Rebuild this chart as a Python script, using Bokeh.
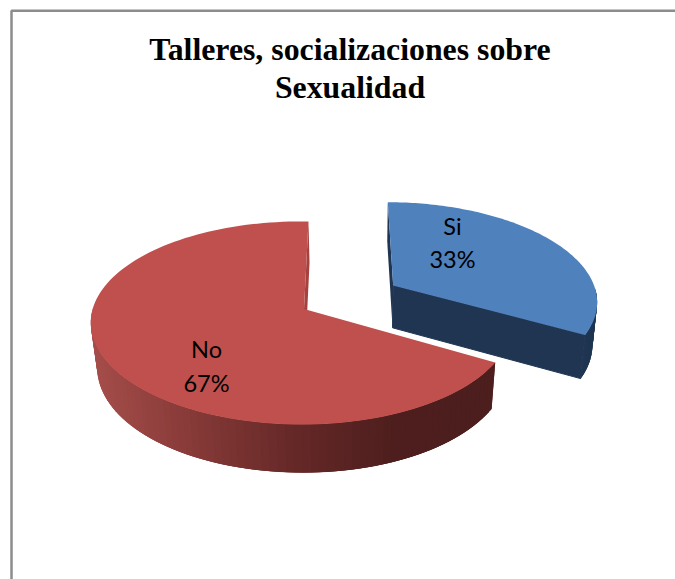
import numpy as np
from bokeh.plotting import figure
from bokeh.models import Range1d
from bokeh.core.properties import value
from bokeh.embed import file_html
from bokeh.resources import INLINE

categories = ["Si", "No"]
shares = [33, 67]
title_lines = ["Talleres, socializaciones sobre", "Sexualidad"]

# projection of each tilted, exploded slice: apex, radii, perspective, rim depth
GEOM = {
    "Si": dict(ax=392.7, ay=285.0, R=201.0, S=94.9, b=6.15, e=0.4, k=0.139, m=0.0,
               vx=360.0, t=0.02, d0=42.3, d1=3.0,
               top="#4f81bd", cut="#1f3552"),
    "No": dict(ax=303.5, ay=308.4, R=208.3, S=99.5, b=-5.1, e=2.9, k=0.139, m=-0.01,
               vx=350.0, t=0.025, d0=44.7, d1=3.5,
               top="#c0504d", cut="#a5413f"),
}
LABEL_POS = {"Si": (452, 225.5, 258.5), "No": (206, 348.5, 382.5)}
SHADE_X = [91, 200, 300, 400, 494]
SHADE_C = [(0xa6, 0x4e, 0x4b), (0x86, 0x3a, 0x38), (0x66, 0x29, 0x28), (0x4e, 0x1f, 0x1e), (0x4c, 0x1e, 0x1d)]


def project(g, theta):
    u, v = np.sin(theta), -np.cos(theta)
    w = 1 - g["k"] * v - g["m"] * u
    return g["ax"] + (g["R"] * u + g["b"] * v) / w, g["ay"] + (g["S"] * v + g["e"] * u) / w


def lower(g, x, y, v):
    return x + (g["vx"] - x) * g["t"], y + g["d0"] + g["d1"] * v


def red_shade(x):
    return "#%02x%02x%02x" % tuple(int(np.interp(x, SHADE_X, [c[i] for c in SHADE_C])) for i in range(3))


p = figure(width=675, height=579, x_range=Range1d(0, 675), y_range=Range1d(579, 0),
           x_axis_type=None, y_axis_type=None, toolbar_location=None,
           output_backend="svg", min_border=0, outline_line_color=None,
           background_fill_color="white", border_fill_color="white")
p.grid.visible = False

# chart frame
p.line([11, 11, 675], [579, 10.2, 10.2], line_color="#8c8c8c", line_width=2.5)

total = sum(shares)
start = 0.0
for cat, share in zip(categories, shares):
    g = GEOM[cat]
    a0, a1 = start, start + 2 * np.pi * share / total
    start = a1
    th = np.linspace(a0, a1, 121)
    X, Y = project(g, th)
    V = -np.cos(th)
    LX, LY = lower(g, X, Y, V)

    # visible rim only, shaded strip by strip; each strip overlaps the next to avoid seams
    order = range(len(th) - 1) if X[-1] > X[0] else range(len(th) - 2, -1, -1)
    for i in order:
        if V[i] < 0.05 and V[i + 1] < 0.05:
            continue
        j = min(i + 2, len(th) - 1)
        k = max(i - 1, 0)
        col = g["cut"] if cat == "Si" else red_shade((X[i] + X[i + 1]) / 2)
        p.patch([X[k], X[j], LX[j], LX[k]], [Y[k], Y[j], LY[j], LY[k]],
                fill_color=col, line_color=None)

    # cut faces
    alx, aly = lower(g, g["ax"], g["ay"], 0.0)
    if cat == "Si":
        p.patch([g["ax"], X[0], LX[0], alx], [g["ay"], Y[0], LY[0], aly],
                fill_color=g["cut"], line_color=None)
        p.patch([g["ax"], X[-1], LX[-1], alx], [g["ay"], Y[-1], LY[-1], aly],
                fill_color=g["cut"], line_color=g["cut"], line_width=1)
    else:
        p.patch([g["ax"], X[-1], LX[-1], alx], [g["ay"], Y[-1], LY[-1], aly],
                fill_color=g["cut"], line_color=None)

    # top surface
    p.patch(np.r_[g["ax"], X], np.r_[g["ay"], Y], fill_color=g["top"], line_color=None)

for cat, share in zip(categories, shares):
    lx, y1, y2 = LABEL_POS[cat]
    for txt, ty in ((cat, y1), (f"{share}%", y2)):
        p.text([lx], [ty], text=[txt], text_font=value("Lato"), text_font_size="23.5px",
               text_color="#000000", text_align="center", text_baseline="middle")

for txt, ty in zip(title_lines, (48.7, 86.7)):
    p.text([349.5], [ty], text=[txt], text_font=value("Liberation Serif"),
           text_font_size="31.8px", text_font_style="bold", text_color="#000000",
           text_align="center", text_baseline="middle")

open("out.html", "w").write(file_html(p, INLINE))
